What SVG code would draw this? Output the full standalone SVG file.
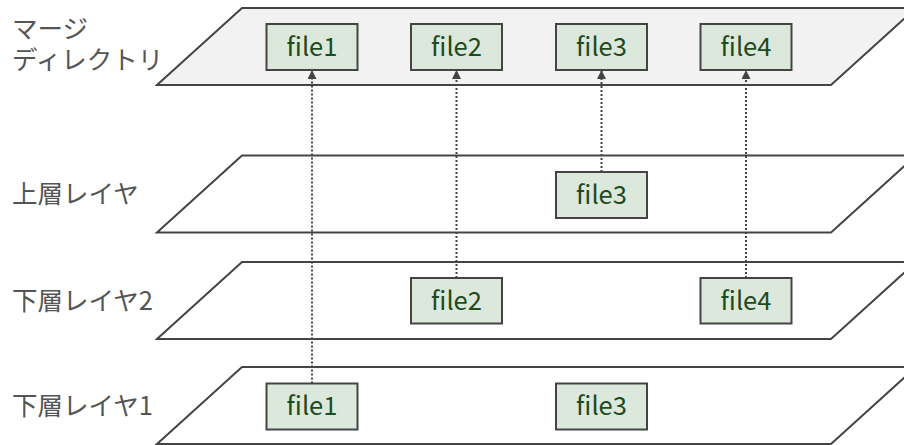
<svg xmlns="http://www.w3.org/2000/svg" width="904" height="445" viewBox="0 0 904 445">
  <style>
    .plane { fill: #ffffff; stroke: #444444; stroke-width: 2; stroke-linejoin: miter; }
    .plane.merge { fill: #f2f2f2; }
    .box { fill: #dce8dc; stroke: #444444; stroke-width: 2; }
    .fname { font-family: "Noto Sans CJK JP", "Noto Sans", sans-serif; font-size: 25.5px; fill: #1e4a1e; text-anchor: middle; }
    .label { font-family: "Noto Sans CJK JP", "Noto Sans", sans-serif; font-size: 25.5px; fill: #555555; }
    .link { fill: none; stroke: #444444; stroke-width: 2; stroke-dasharray: 2 2; }
  </style>
  <defs>
    <marker id="head" viewBox="0 0 10 10" refX="10" refY="5" markerWidth="9" markerHeight="9" markerUnits="userSpaceOnUse" orient="auto">
      <path d="M0,0 L10,5 L0,10 z" fill="#444444"/>
    </marker>
  </defs>

  <!-- layer planes -->
  <g id="layer-merge">
    <polygon class="plane merge" points="157,85 242,8 916,8 831,85"/>
    <text class="label" x="12" y="38">マージ<tspan x="12" dy="30.5">ディレクトリ</tspan></text>
  </g>
  <g id="layer-upper">
    <polygon class="plane" points="157,232.5 242,155.5 916,155.5 831,232.5"/>
    <text class="label" x="12" y="203">上層レイヤ</text>
  </g>
  <g id="layer-lower2">
    <polygon class="plane" points="157,339 242,262 916,262 831,339"/>
    <text class="label" x="12" y="310">下層レイヤ2</text>
  </g>
  <g id="layer-lower1">
    <polygon class="plane" points="157,444 242,367 916,367 831,444"/>
    <text class="label" x="12" y="415">下層レイヤ1</text>
  </g>

  <!-- connectors -->
  <g id="connectors">
    <line class="link" x1="312" y1="383.5" x2="312" y2="70" marker-end="url(#head)"/>
    <line class="link" x1="456.5" y1="278" x2="456.5" y2="70" marker-end="url(#head)"/>
    <line class="link" x1="601.5" y1="172" x2="601.5" y2="70" marker-end="url(#head)"/>
    <line class="link" x1="746" y1="278" x2="746" y2="70" marker-end="url(#head)"/>
  </g>

  <!-- merged files -->
  <g id="merge-file1"><rect class="box" x="266.5" y="24" width="91" height="46"/><text class="fname" x="312" y="55.5">file1</text></g>
  <g id="merge-file2"><rect class="box" x="411" y="24" width="91" height="46"/><text class="fname" x="456.5" y="55.5">file2</text></g>
  <g id="merge-file3"><rect class="box" x="556" y="24" width="91" height="46"/><text class="fname" x="601.5" y="55.5">file3</text></g>
  <g id="merge-file4"><rect class="box" x="700.5" y="24" width="91" height="46"/><text class="fname" x="746" y="55.5">file4</text></g>

  <!-- upper layer files -->
  <g id="upper-file3"><rect class="box" x="556" y="172" width="91" height="46"/><text class="fname" x="601.5" y="203.5">file3</text></g>

  <!-- lower layer 2 files -->
  <g id="lower2-file2"><rect class="box" x="411" y="278" width="91" height="45.5"/><text class="fname" x="456.5" y="309.5">file2</text></g>
  <g id="lower2-file4"><rect class="box" x="700.5" y="278" width="91" height="45.5"/><text class="fname" x="746" y="309.5">file4</text></g>

  <!-- lower layer 1 files -->
  <g id="lower1-file1"><rect class="box" x="266.5" y="383.5" width="91" height="46"/><text class="fname" x="312" y="415">file1</text></g>
  <g id="lower1-file3"><rect class="box" x="556" y="383.5" width="91" height="46"/><text class="fname" x="601.5" y="415">file3</text></g>
</svg>
